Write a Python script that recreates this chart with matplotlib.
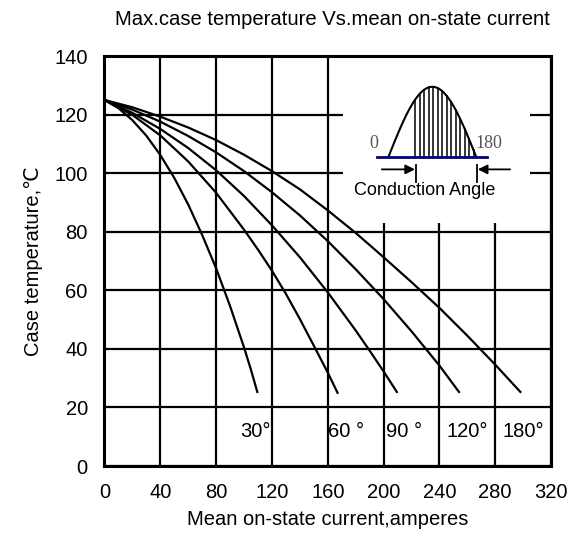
import numpy as np
import matplotlib
matplotlib.use("Agg")
import matplotlib.pyplot as plt
from matplotlib.patches import Rectangle

plt.rcParams['font.family'] = ['Liberation Sans', 'DejaVu Sans']

# Curvas: temperatura de carcasa vs corriente media, por angulo de conduccion
x_30 = [0, 10, 20, 30, 40, 50, 60, 70, 80, 90, 100, 105, 109.5]
y_30 = [125, 122.2, 118.1, 112.8, 106.2, 98.4, 89.3, 78.9, 67.5, 54.6, 40.5, 32.8, 25.3]

x_60 = [0, 20, 40, 60, 80, 100, 110, 120, 130, 140, 150, 160, 167]
y_60 = [125, 119.9, 112.9, 104, 93.3, 80.7, 73.9, 66.7, 58.8, 50.2, 41.1, 31.9, 25]

x_90 = [0, 20, 40, 60, 80, 100, 120, 140, 160, 180, 190, 200, 209.5]
y_90 = [125, 120.6, 115.1, 108.6, 101, 92.2, 82.2, 71.3, 59.3, 46.3, 39.4, 32.3, 25.3]

x_120 = [0, 20, 40, 60, 80, 100, 120, 140, 160, 180, 200, 220, 240, 254]
y_120 = [125, 121.7, 117.6, 112.7, 107.1, 100.7, 93.5, 85.6, 76.8, 67.2, 57, 46, 34.3, 25.3]

x_180 = [0, 20, 40, 60, 80, 100, 120, 140, 160, 180, 200, 220, 240, 260, 280, 298]
y_180 = [125, 122.5, 119.3, 115.6, 111.3, 106.3, 100.7, 94.5, 87.3, 79.6, 71.3, 62.8, 54, 44.5, 34.6, 25.3]

curvas = [(x_30, y_30), (x_60, y_60), (x_90, y_90), (x_120, y_120), (x_180, y_180)]

etiquetas = ["30°", "60 °", "90 °", "120°", "180°"]
etiqueta_x = [119, 160.5, 202, 245, 285]
etiqueta_y = 11.7

x_ticks = np.arange(0, 321, 40)
y_ticks = np.arange(0, 141, 20)

fig = plt.figure(figsize=(5.85, 5.39), dpi=100)
ax = fig.add_axes([0.1786, 0.1354, 0.7634, 0.7606])

ax.set_xlim(0, 320)
ax.set_ylim(0, 140)
ax.set_xticks(x_ticks)
ax.set_yticks(y_ticks)
ax.tick_params(length=0, labelsize=14.5, pad=12)
ax.set_axisbelow(True)
ax.grid(True, color='black', linewidth=1.6)
for s in ax.spines.values():
    s.set_linewidth(2.2)

for xs, ys in curvas:
    ax.plot(xs, ys, color='black', linewidth=1.6, zorder=3)

for i in range(len(etiquetas)):
    ax.text(etiqueta_x[i], etiqueta_y, etiquetas[i], fontsize=14.5,
            ha='right' if i == 0 else 'left', va='center')

# Recuadro del dibujo del angulo de conduccion (tapa la grilla)
ax.add_patch(Rectangle((171, 83), 134, 57, facecolor='white', edgecolor='none', zorder=1))

base_y = 105.6
x0, x1, alto = 203.5, 266.3, 23.9
t = np.linspace(0, 1, 100)
ax.plot(x0 + (x1 - x0) * t, base_y + alto * np.sin(np.pi * t), color='black', lw=1.5, zorder=4)
ax.plot([195, 274], [base_y, base_y], color='#000080', lw=2, zorder=5)
for xh in np.linspace(222.5, 264.5, 14):
    fase = (xh - x0) / (x1 - x0)
    ax.plot([xh, xh], [base_y, base_y + alto * np.sin(np.pi * fase)], color='black', lw=1.1, zorder=4)

ax.plot([223, 223], [97.1, 102.8], color='black', lw=1.3, zorder=4)
ax.plot([266.8, 266.8], [97.1, 102.8], color='black', lw=1.3, zorder=4)
ax.annotate('', xy=(222.5, 101.3), xytext=(198.7, 101.3),
            arrowprops=dict(arrowstyle='-|>', color='black', lw=1.3, mutation_scale=14,
                            shrinkA=0, shrinkB=0), zorder=4)
ax.annotate('', xy=(267.5, 101.3), xytext=(290.6, 101.3),
            arrowprops=dict(arrowstyle='-|>', color='black', lw=1.3, mutation_scale=14,
                            shrinkA=0, shrinkB=0), zorder=4)
ax.text(192.8, 110.3, "0", family='Liberation Serif', fontsize=13, color='#555555',
        ha='center', va='center', zorder=4)
ax.text(265.6, 110.3, "180", family='Liberation Serif', fontsize=13, color='#555555',
        ha='left', va='center', zorder=4)
ax.text(229.4, 94.2, "Conduction Angle", fontsize=13, ha='center', va='center', zorder=4)

fig.text(0.5675, 0.963, "Max.case temperature Vs.mean on-state current", fontsize=14.6,
         ha='center', va='center')
ax.set_xlabel("Mean on-state current,amperes", fontsize=14.5, labelpad=6)
ax.set_ylabel("Case temperature,℃", fontsize=14.5, labelpad=8)

fig.savefig("out.png", dpi=100)
